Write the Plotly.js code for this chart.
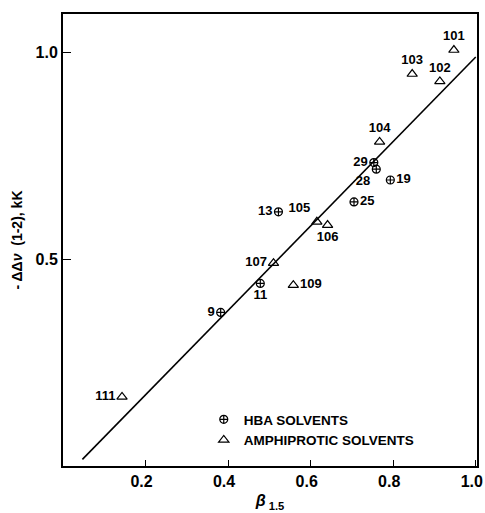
<!DOCTYPE html>
<html>
<head>
<meta charset="utf-8">
<script src="https://cdn.plot.ly/plotly-3.0.1.min.js"></script>
<style>html,body{margin:0;padding:0;background:#fff;}#chart{width:485px;height:513px;}</style>
</head>
<body>
<div id="chart"></div>
<script>
// HBA solvents (circle-cross symbols)
const hbaIds = ['9', '11', '13', '19', '25', '28', '29'];
const hbaBeta = [0.382, 0.478, 0.522, 0.793, 0.705, 0.759, 0.753];
const hbaShift = [0.371, 0.441, 0.614, 0.691, 0.638, 0.717, 0.733];

// Amphiprotic solvents (triangles)
const ampIds = ['101', '102', '103', '104', '105', '106', '107', '109', '111'];
const ampBeta = [0.947, 0.913, 0.846, 0.767, 0.615, 0.641, 0.510, 0.558, 0.143];
const ampShift = [1.005, 0.929, 0.947, 0.783, 0.590, 0.582, 0.490, 0.437, 0.167];

// Regression line end points
const fitBeta = [0.047, 1.0];
const fitShift = [0.016, 0.988];

// Tick labels
const xTicks = [0.2, 0.4, 0.6, 0.8, 1.0];
const yTicks = [0.5, 1.0];

// label placement (style)
const hbaPos = ['middle left', 'bottom center', 'middle left', 'middle right', 'middle right', 'bottom left', 'middle left'];
const ampPos = ['top center', 'top center', 'top center', 'top center', 'top left', 'bottom center', 'middle left', 'middle right', 'middle left'];

const FONT = 'Liberation Sans, Arial, Helvetica, sans-serif';
const lblFont = {family: FONT, size: 13, color: '#000', weight: 'bold'};

const traces = [
  {
    x: fitBeta, y: fitShift, mode: 'lines', showlegend: false, hoverinfo: 'skip',
    line: {color: '#000', width: 1.6}
  },
  {
    x: hbaBeta, y: hbaShift, text: hbaIds, mode: 'markers+text', name: 'HBA SOLVENTS',
    textposition: hbaPos, textfont: lblFont, cliponaxis: false,
    marker: {symbol: 'circle-cross-open', size: 8, color: '#000', line: {width: 1.2, color: '#000'}}
  },
  {
    x: ampBeta, y: ampShift, text: ampIds, mode: 'markers+text', name: 'AMPHIPROTIC SOLVENTS',
    textposition: ampPos, textfont: lblFont, cliponaxis: false,
    marker: {symbol: 'triangle-up-open', size: 9, color: '#000', line: {width: 1.2, color: '#000'}}
  }
];

const layout = {
  width: 485, height: 513,
  margin: {l: 63, r: 8, t: 14, b: 47},
  paper_bgcolor: '#fff', plot_bgcolor: '#fff',
  font: {family: FONT, color: '#000', size: 15, weight: 'bold'},
  showlegend: true,
  legend: {
    x: 0.34, y: 0.137, xanchor: 'left', yanchor: 'top',
    bgcolor: 'rgba(0,0,0,0)', borderwidth: 0,
    font: {family: FONT, size: 13.5, color: '#000', weight: 'bold'},
    itemwidth: 30, tracegroupgap: 0
  },
  xaxis: {
    range: [0, 1.003], showgrid: false, zeroline: false,
    showline: true, linecolor: '#000', linewidth: 2, mirror: true,
    ticks: 'inside', ticklen: 6, tickwidth: 1, tickcolor: '#000',
    tickvals: xTicks, ticktext: xTicks.map(v => v.toFixed(1)),
    ticklabeloverflow: 'allow', ticklabelshift: -4,
    tickfont: {family: FONT, size: 16, color: '#000', weight: 'bold'},
    title: {text: '<i>β</i><sub> 1.5</sub>', font: {family: FONT, size: 16, color: '#000', weight: 'bold'}, standoff: 6}
  },
  yaxis: {
    range: [0, 1.092], showgrid: false, zeroline: false,
    showline: true, linecolor: '#000', linewidth: 2, mirror: true,
    ticks: 'inside', ticklen: 8, tickwidth: 1, tickcolor: '#000',
    tickvals: yTicks, ticktext: yTicks.map(v => v.toFixed(1)),
    tickfont: {family: FONT, size: 16, color: '#000', weight: 'bold'},
    title: {text: '- ΔΔ<i>ν</i>  (1-2), kK', font: {family: FONT, size: 14, color: '#000', weight: 'bold'}, standoff: 10}
  }
};

Plotly.newPlot('chart', traces, layout, {displayModeBar: false, staticPlot: true});
</script>
</body>
</html>
